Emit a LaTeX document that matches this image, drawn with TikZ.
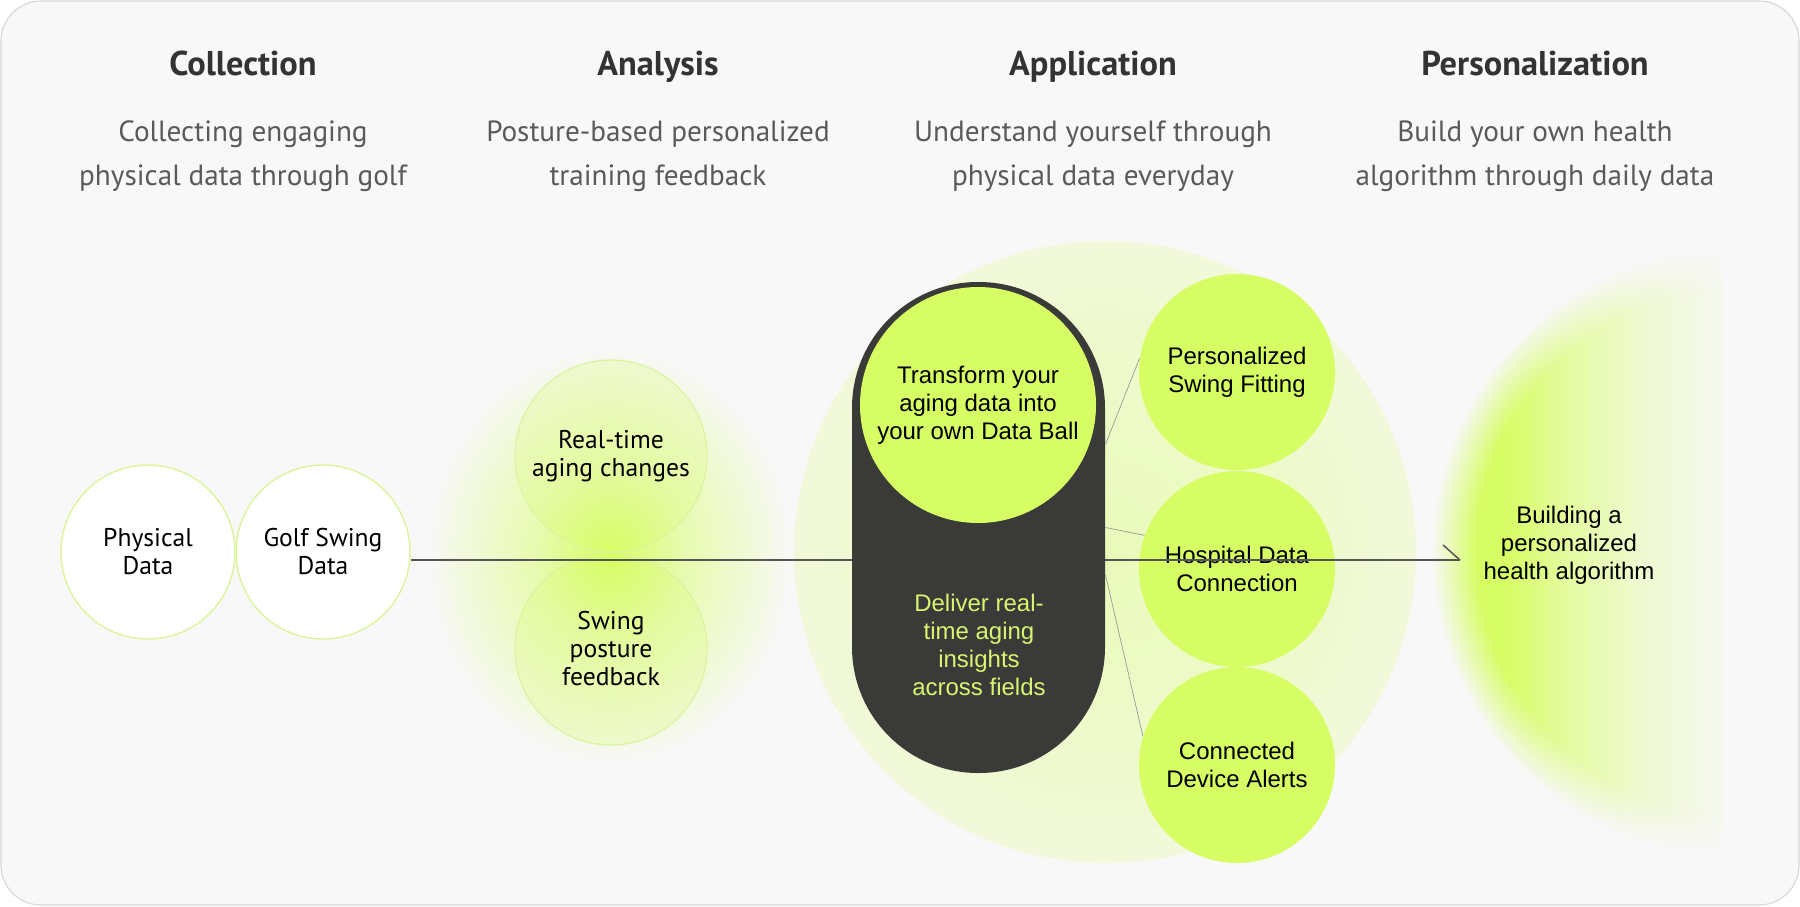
\documentclass[tikz,border=0pt]{standalone}
\usepackage{fontspec}
\setmainfont{Liberation Sans}
\newfontfamily\ptsans{PT Sans}
\usetikzlibrary{fadings,calc}
\definecolor{bgc}{HTML}{F8F8F8}
\definecolor{framec}{HTML}{D9D9D9}
\definecolor{lime}{HTML}{D7FD64}
\definecolor{darkpill}{HTML}{3A3A38}
\definecolor{headc}{HTML}{333333}
\definecolor{subc}{HTML}{5A5A5A}
\definecolor{rimc}{HTML}{DCF49C}
\definecolor{limetext}{HTML}{D8F470}
\definecolor{linec}{HTML}{555555}
\definecolor{thinc}{HTML}{9A9A9A}
\pgfdeclareradialshading{glowA}{\pgfpoint{0bp}{0bp}}{color(0bp)=(lime); color(4bp)=(lime!80!bgc); color(10bp)=(lime!50!bgc); color(17bp)=(lime!28!bgc); color(22bp)=(lime!12!bgc); color(25bp)=(bgc); color(50bp)=(bgc)}
\pgfdeclareradialshading{appglow}{\pgfpoint{0bp}{0bp}}{color(0bp)=(lime!42!bgc); color(18bp)=(lime!28!bgc); color(25bp)=(lime!20!bgc); color(50bp)=(lime!20!bgc)}
\pgfdeclarehorizontalshading{halo}{100bp}{color(0bp)=(lime); color(31bp)=(lime); color(36bp)=(lime!60!bgc); color(42bp)=(lime!28!bgc); color(48bp)=(lime!8!bgc); color(100bp)=(bgc)}
\begin{document}
\begin{tikzpicture}[x=0.5pt,y=-0.5pt,
  headst/.style={anchor=base, text=headc, font=\ptsans\bfseries\fontsize{17.2}{20}\selectfont},
  subst/.style={anchor=base, text=subc, font=\ptsans\fontsize{14.6}{17}\selectfont},
  leftc/.style={circle, inner sep=0pt, minimum size=87pt, fill=white, draw=rimc, line width=0.7pt, align=center, font=\ptsans\fontsize{12.8}{14}\selectfont},
  anac/.style={circle, inner sep=0pt, minimum size=96pt, fill=lime, fill opacity=0.22, text opacity=1, draw=rimc, draw opacity=1, line width=0.6pt, align=center, font=\ptsans\fontsize{12.8}{14}\selectfont},
  limec/.style={circle, inner sep=0pt, minimum size=98pt, fill=lime, align=center, font=\fontsize{12}{14.1}\selectfont},
  pillst/.style={rectangle, inner sep=0pt, minimum width=126.5pt, minimum height=245.5pt, rounded corners=63pt, fill=darkpill},
  delt/.style={align=center, text=limetext, font=\fontsize{12}{14.1}\selectfont},
  rtext/.style={align=center, font=\fontsize{12}{14.1}\selectfont},
  mainline/.style={draw=linec, line width=0.75pt},
  thinline/.style={draw=thinc, line width=0.35pt}]
\useasboundingbox (0,0) rectangle (1800,906);
\draw[draw=framec, fill=bgc, line width=0.6pt, rounded corners=20pt] (1,1) rectangle (1799,905);
% headings
\node[headst] (h1) at (243,75) {Collection};
\node[headst] (h2) at (658,75) {Analysis};
\node[headst] (h3) at (1093,75) {Application};
\node[headst] (h4) at (1535,75) {Personalization};
\node[subst] (s1a) at (243,141) {Collecting engaging};
\node[subst] (s1b) at (243,185) {physical data through golf};
\node[subst] (s2a) at (658,141) {Posture-based personalized};
\node[subst] (s2b) at (658,185) {training feedback};
\node[subst] (s3a) at (1093,141) {Understand yourself through};
\node[subst] (s3b) at (1093,185) {physical data everyday};
\node[subst] (s4a) at (1535,141) {Build your own health};
\node[subst] (s4b) at (1535,185) {algorithm through daily data};
% glows
\shade[shading=glowA] (610,556) ellipse[x radius=182, y radius=208];
\shade[shading=appglow] (1105,552) circle[radius=311];
\begin{scope}
  \clip (1300,200) rectangle (1722,900);
  \shade[shading=halo, path fading=circle with fuzzy edge 15 percent] (1737,552) circle[radius=305];
\end{scope}
% circles
\node[leftc] (p1) at (148,552) {Physical\\Data};
\node[leftc] (p2) at (323,552) {Golf Swing\\Data};
\node[anac] (a1) at (611,456) {Real-time\\aging changes};
\node[anac] (a2) at (611,649) {Swing\\posture\\feedback};
\node[limec] (c1) at (1237,372) {Personalized\\Swing Fitting};
\node[limec] (c2) at (1237,569) {Hospital Data\\Connection};
\node[limec] (c3) at (1237,765) {Connected\\Device Alerts};
% main connector
\coordinate (tip) at (1460,560);
\draw[mainline] (p2.east |- tip) -- (tip);
\draw[mainline] (tip) -- ++(-17,-15);
% pill
\node[pillst] (pill) at (978.5,527.5) {};
\node[limec, minimum size=118pt] (core) at (978,405) {Transform your\\aging data into\\your own Data Ball};
\node[delt] (deliver) at (979,645) {Deliver real-\\time aging\\insights\\across fields};
% thin connectors
\draw[thinline] ($(pill.east)+(0,-83)$) -- (c1.172);
\draw[thinline] (pill.east) -- (c2.160);
\draw[thinline] ($(pill.east)+(0,47)$) -- (c3.163);
% personalization
\node[rtext] (pers) at (1569,545) {Building a\\personalized\\health algorithm};
\end{tikzpicture}
\end{document}
